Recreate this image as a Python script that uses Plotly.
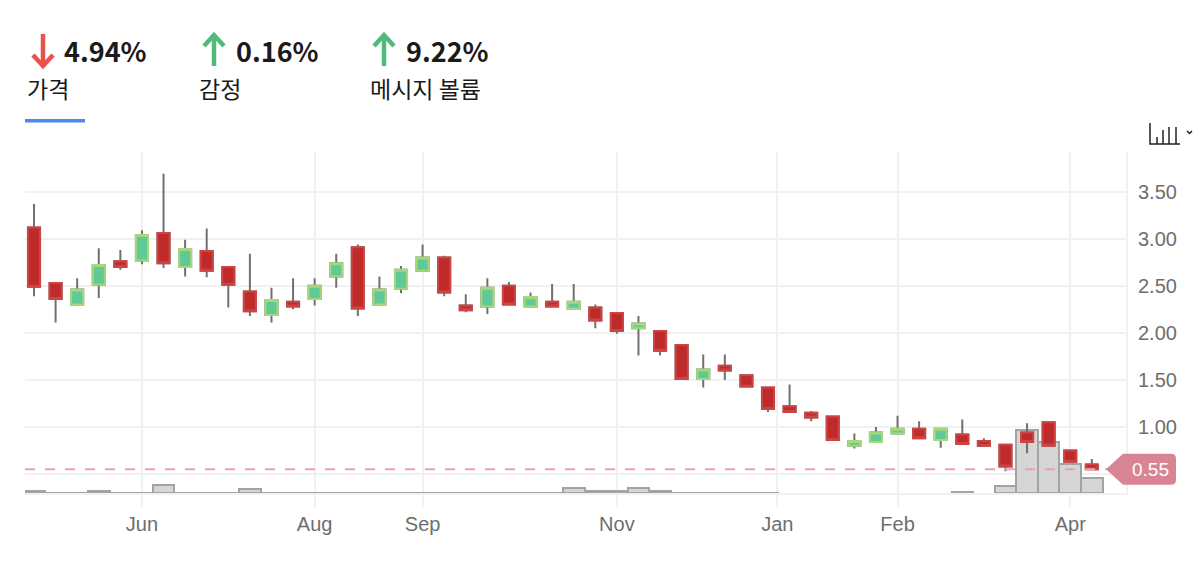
import plotly.graph_objects as go
import pandas as pd

# ---------------- data ----------------
start_date = "2023-05-02"
n_weeks = 50
dates = pd.date_range(start_date, periods=n_weeks, freq="7D")

open_ = [3.12, 2.53, 2.30, 2.51, 2.76, 2.77, 3.06, 2.70, 2.87, 2.70,
         2.44, 2.19, 2.33, 2.36, 2.60, 2.91, 2.30, 2.47, 2.66, 2.80,
         2.29, 2.28, 2.50, 2.28, 2.33, 2.26, 2.27, 2.21, 2.05, 2.02,
         1.87, 1.51, 1.65, 1.55, 1.42, 1.22, 1.15, 1.11, 0.80, 0.84,
         0.93, 0.98, 0.86, 0.92, 0.85, 0.81, 0.94, 1.05, 0.75, 0.60]
high = [3.37, 2.54, 2.58, 2.90, 2.88, 3.09, 3.69, 2.99, 3.11, 2.71,
        2.84, 2.48, 2.58, 2.58, 2.84, 2.94, 2.60, 2.71, 2.94, 2.82,
        2.41, 2.58, 2.54, 2.43, 2.52, 2.52, 2.30, 2.22, 2.18, 2.03,
        1.88, 1.77, 1.77, 1.56, 1.43, 1.45, 1.17, 1.11, 0.93, 1.00,
        1.12, 1.06, 0.98, 1.08, 0.88, 0.81, 1.04, 1.06, 0.76, 0.66]
low = [2.39, 2.11, 2.30, 2.37, 2.67, 2.73, 2.69, 2.60, 2.59, 2.27,
       2.18, 2.11, 2.25, 2.29, 2.48, 2.18, 2.29, 2.42, 2.65, 2.39,
       2.22, 2.20, 2.29, 2.27, 2.27, 2.25, 2.05, 1.99, 1.76, 1.76,
       1.50, 1.42, 1.50, 1.42, 1.16, 1.15, 1.06, 0.85, 0.77, 0.84,
       0.93, 0.88, 0.78, 0.82, 0.79, 0.53, 0.72, 0.79, 0.62, 0.54]
close = [2.49, 2.36, 2.46, 2.72, 2.70, 3.04, 2.74, 2.89, 2.66, 2.51,
         2.23, 2.35, 2.28, 2.50, 2.74, 2.26, 2.46, 2.67, 2.80, 2.43,
         2.24, 2.48, 2.30, 2.38, 2.28, 2.33, 2.13, 2.02, 2.10, 1.81,
         1.51, 1.61, 1.60, 1.43, 1.19, 1.16, 1.10, 0.86, 0.85, 0.94,
         0.98, 0.88, 0.98, 0.82, 0.80, 0.58, 0.84, 0.80, 0.63, 0.55]
volume = [23, 3, 3, 23, 3, 3, 83, 3, 3, 3,
          43, 3, 3, 3, 3, 3, 3, 3, 3, 3,
          3, 3, 3, 3, 3, 47, 20, 20, 47, 23,
          3, 3, 3, 3, 3, None, None, None, None, None,
          None, None, None, 15, None, 70, 630, 515, 290, 152]

current_price = 0.55
current_price_text = "0.55"

month_tick_dates = ["2023-06-06", "2023-08-01", "2023-09-05", "2023-11-07",
                    "2023-12-29", "2024-02-06", "2024-04-02"]
month_tick_text = ["Jun", "Aug", "Sep", "Nov", "Jan", "Feb", "Apr"]
price_tick_vals = [0.5, 1.0, 1.5, 2.0, 2.5, 3.0, 3.5]
price_tick_text = ["", "1.00", "1.50", "2.00", "2.50", "3.00", "3.50"]

header_values = ["4.94%", "0.16%", "9.22%"]
header_dirs = ["down", "up", "up"]
header_labels = ["가격", "감정", "메시지 볼륨"]

# ---------------- styling / layout helpers ----------------
W, H = 1194, 568
PL, PR, PT, PB = 25, 1126, 152, 493


def pxx(x):
    return (x - PL) / (PR - PL)


def pxy(y):
    return (PB - y) / (PB - PT)


UP_FILL, UP_LINE = "#5fca95", "#a8d67c"
DN_FILL, DN_LINE = "#bf2a2a", "#cc4444"
WICK = "#707070"

fig = go.Figure()

# volume bars (main y axis, drawn beneath the price subplot)
fig.add_trace(go.Bar(
    x=dates, y=volume, yaxis="y",
    marker=dict(color="#d6d6d6", line=dict(color="#a3a3a3", width=2)),
    hoverinfo="skip", showlegend=False,
))

# wicks
fig.add_trace(go.Candlestick(
    x=dates, open=open_, high=high, low=low, close=close, yaxis="y2",
    increasing=dict(line=dict(color=WICK, width=2), fillcolor=WICK),
    decreasing=dict(line=dict(color=WICK, width=2), fillcolor=WICK),
    whiskerwidth=0, showlegend=False, hoverinfo="skip",
))

# bodies
body_hi = [max(o, c) for o, c in zip(open_, close)]
body_lo = [min(o, c) for o, c in zip(open_, close)]
fig.add_trace(go.Candlestick(
    x=dates, open=open_, high=body_hi, low=body_lo, close=close, yaxis="y2",
    increasing=dict(line=dict(color=UP_LINE, width=2), fillcolor=UP_FILL),
    decreasing=dict(line=dict(color=DN_LINE, width=2), fillcolor=DN_FILL),
    whiskerwidth=0, showlegend=False,
))

x_left = dates[0] - pd.Timedelta(days=0.417 * 7)
x_right = dates[-1] + pd.Timedelta(days=1.583 * 7)

GRID = "#f1f1f1"
XFONT = dict(family="Liberation Sans, Arial, sans-serif", size=20, color="#6e6e6e")
YFONT = dict(family="Liberation Sans, Arial, sans-serif", size=20, color="#6e6e6e")

shapes = []
annotations = []

# current price dashed line
shapes.append(dict(type="line", xref="paper", yref="y2", x0=0, x1=pxx(1108),
                   y0=current_price, y1=current_price,
                   line=dict(color="#e8a3b1", width=2, dash="10px,10px"), layer="above"))
# price tag
hh = 15.5 / 94.1
r = 5 / 94.1
rx = 5 / (PR - PL)
tip = pxx(1106)
bx0 = pxx(1123)
bx1 = pxx(1176)
c = current_price
tag_path = (f"M {tip},{c} L {bx0},{c + hh} L {bx1 - rx},{c + hh} "
            f"Q {bx1},{c + hh} {bx1},{c + hh - r} L {bx1},{c - hh + r} "
            f"Q {bx1},{c - hh} {bx1 - rx},{c - hh} L {bx0},{c - hh} Z")
shapes.append(dict(type="path", xref="paper", yref="y2", path=tag_path,
                   fillcolor="#d98493", line=dict(width=0), layer="above"))
annotations.append(dict(x=pxx(1150), y=current_price, xref="paper", yref="y2",
                        text=current_price_text, showarrow=False,
                        xanchor="center", yanchor="middle",
                        font=dict(family="Liberation Sans, Arial, sans-serif", size=19, color="white")))

# header
num_x = [62, 234, 404]
arrow_x = [43, 214, 384]
label_x = [25, 197, 368]
for i in range(3):
    color = "#ea5149" if header_dirs[i] == "down" else "#52b97c"
    annotations.append(dict(x=pxx(num_x[i]), y=pxy(50), xref="paper", yref="paper",
                            text=f"<b>{header_values[i]}</b>", showarrow=False,
                            xanchor="left", yanchor="middle",
                            font=dict(family="Noto Sans CJK KR", size=27, color="#1a1a1a")))
    annotations.append(dict(x=pxx(label_x[i]), y=pxy(88), xref="paper", yref="paper",
                            text=header_labels[i], showarrow=False,
                            xanchor="left", yanchor="middle",
                            font=dict(family="Noto Sans CJK KR", size=23, color="#1a1a1a")))
    ax = arrow_x[i]
    if header_dirs[i] == "down":
        shaft = f"M {pxx(ax)},{pxy(34)} L {pxx(ax)},{pxy(66)}"
        head = f"M {pxx(ax - 10)},{pxy(55)} L {pxx(ax)},{pxy(66)} L {pxx(ax + 10)},{pxy(55)}"
    else:
        shaft = f"M {pxx(ax)},{pxy(66)} L {pxx(ax)},{pxy(35)}"
        head = f"M {pxx(ax - 10)},{pxy(46)} L {pxx(ax)},{pxy(35)} L {pxx(ax + 10)},{pxy(46)}"
    shapes.append(dict(type="path", xref="paper", yref="paper", path=shaft,
                       line=dict(color=color, width=4.5)))
    shapes.append(dict(type="path", xref="paper", yref="paper", path=head,
                       line=dict(color=color, width=4.5)))

# active tab underline
shapes.append(dict(type="rect", xref="paper", yref="paper",
                   x0=pxx(25), x1=pxx(85), y0=pxy(122.5), y1=pxy(119),
                   fillcolor="#4a8af0", line=dict(width=0)))

# chart-type icon (top right)
icon = "#222222"
shapes.append(dict(type="path", xref="paper", yref="paper",
                   path=f"M {pxx(1150)},{pxy(123)} L {pxx(1150)},{pxy(144)} L {pxx(1180)},{pxy(144)}",
                   line=dict(color=icon, width=1.5)))
for bx, top in [(1157, 137), (1163, 130), (1169, 127), (1176, 127)]:
    shapes.append(dict(type="line", xref="paper", yref="paper",
                       x0=pxx(bx), x1=pxx(bx), y0=pxy(top), y1=pxy(144),
                       line=dict(color=icon, width=1.5)))
shapes.append(dict(type="path", xref="paper", yref="paper",
                   path=f"M {pxx(1187)},{pxy(131)} L {pxx(1189.5)},{pxy(133.5)} L {pxx(1192)},{pxy(131)}",
                   line=dict(color=icon, width=1.5)))

fig.update_layout(
    width=W, height=H,
    margin=dict(l=PL, r=W - PR, t=PT, b=H - PB),
    paper_bgcolor="white", plot_bgcolor="white",
    bargap=0, boxgap=0.44, boxgroupgap=0,
    showlegend=False,
    xaxis=dict(
        type="date", range=[x_left, x_right],
        rangeslider=dict(visible=False),
        tickvals=month_tick_dates, ticktext=month_tick_text,
        showgrid=True, gridcolor=GRID, gridwidth=2,
        ticks="outside", ticklen=12, tickcolor=GRID, tickwidth=2,
        showline=True, linecolor=GRID, linewidth=2,
        tickfont=XFONT, zeroline=False,
    ),
    yaxis=dict(
        range=[0, 3410], visible=False, showgrid=False, zeroline=False,
        fixedrange=True,
    ),
    yaxis2=dict(
        overlaying="y", side="right", range=[0.298, 3.922],
        tickvals=price_tick_vals, ticktext=price_tick_text,
        showgrid=True, gridcolor=GRID, gridwidth=2,
        ticks="outside", ticklen=6, tickcolor="rgba(0,0,0,0)",
        showline=True, linecolor=GRID, linewidth=2,
        tickfont=YFONT, zeroline=False,
    ),
    shapes=shapes,
    annotations=annotations,
)

fig.write_html("out.html")
